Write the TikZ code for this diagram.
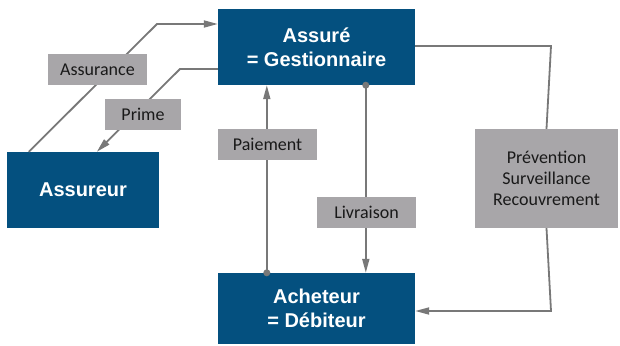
\documentclass[tikz,border=0pt]{standalone}
\usepackage{fontspec}
\newfontfamily\boitefont{Liberation Sans}
\newfontfamily\etiqfont{Carlito}
\usetikzlibrary{arrows.meta}
\definecolor{bleu}{HTML}{04507F}
\definecolor{grisbox}{HTML}{A8A6A9}
\definecolor{trait}{HTML}{787878}

\begin{document}
\begin{tikzpicture}[x=1pt,y=-1pt,>={Triangle[length=14pt,width=7pt]},
	acteur/.style={fill=bleu,text=white,font=\boitefont\bfseries\fontsize{20}{24}\selectfont,align=center,inner sep=0pt},
	etiquette/.style={fill=grisbox,text=black!90,font=\etiqfont\fontsize{18}{21}\selectfont,align=center,inner sep=0pt,minimum height=31},
	trace/.style={draw=trait,line width=1.8pt}]
	\useasboundingbox (0,0) rectangle (620,345);
	%	Acteurs
	\node[acteur,minimum width=197,minimum height=76] (assure) at (316.5,47) {Assuré\\= Gestionnaire};
	\node[acteur,minimum width=152,minimum height=76] (assureur) at (83,190) {Assureur};
	\node[acteur,minimum width=197,minimum height=71] (acheteur) at (316.5,308.5) {Acheteur\\= Débiteur};
	\node[etiquette,minimum width=143,minimum height=99] (prevention) at (546.5,178.5) {Prévention\\Surveillance\\Recouvrement};
	\path
	(157,24) coordinate (A1)
	(180,69) coordinate (P1)
	(551,46) coordinate (R1)
	(551,311) coordinate (R2)
	([xshift=49pt]acheteur.north west) coordinate (D1)
	([xshift=148pt]assure.south west) coordinate (D2)
	;
	%	Flux
	\draw[trace,->] ([xshift=22pt]assureur.north west)--(A1)--(A1 -| assure.west);
	\draw[trace,->] (P1 -| assure.west)--(P1)--([xshift=90pt]assureur.north west);
	\draw[trace] (R1 -| assure.east)--(R1)--(prevention.north);
	\draw[trace,->] (prevention.south)--(R2)--(R2 -| acheteur.east);
	\draw[trace,->] (D1)--(D1 |- assure.south);
	\draw[trace,->] (D2)--(D2 |- acheteur.north);
	\fill[trait] (D1) circle(3.5) (D2) circle(3.5);
	%	Etiquettes
	\node[etiquette,minimum width=99] (assurance) at (97.5,69.5) {Assurance};
	\node[etiquette,minimum width=76] (prime) at (143,114.5) {Prime};
	\node[etiquette,minimum width=99] (paiement) at (267.5,144.5) {Paiement};
	\node[etiquette,minimum width=99] (livraison) at (366.5,212.5) {Livraison};
\end{tikzpicture}
\end{document}
